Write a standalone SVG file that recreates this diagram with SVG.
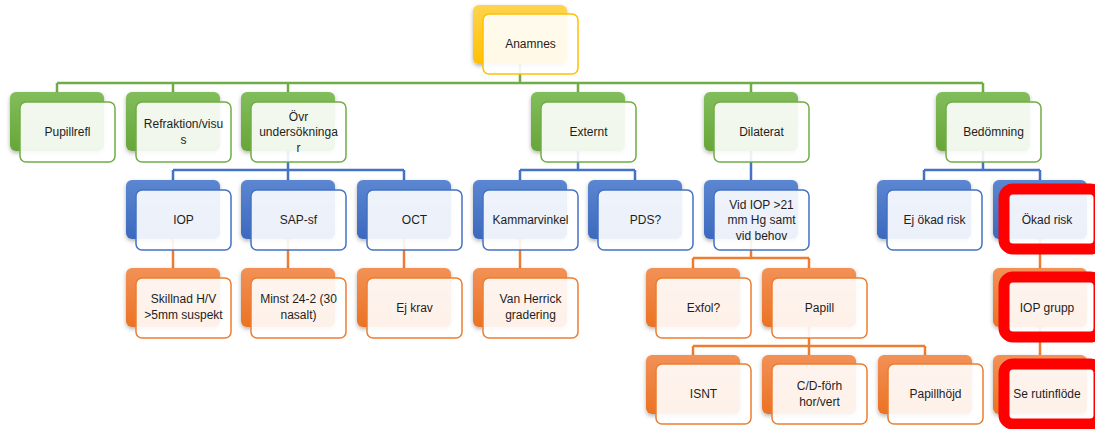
<svg xmlns="http://www.w3.org/2000/svg" width="1095" height="429" viewBox="0 0 1095 429">
<style>
.t{font-family:"Liberation Sans",Arial,sans-serif;font-size:12px;fill:#1e1e1e;text-anchor:middle;dominant-baseline:central}
.fr{fill:#fff;fill-opacity:0.9;stroke-width:1.5}
.bk{filter:url(#sh)}
.gY .b{fill:url(#gY)} .gY .fr{stroke:#FFC000}
.gG .b{fill:url(#gG)} .gG .fr{stroke:#70AD47}
.gB .b{fill:url(#gB)} .gB .fr{stroke:#4472C4}
.gO .b{fill:url(#gO)} .gO .fr{stroke:#ED7D31}
.red .fr{stroke:#FF0000;stroke-width:11}
.cG{stroke:#70AD47;stroke-width:2.5;fill:none}
.cB{stroke:#4472C4;stroke-width:2.5;fill:none}
.cO{stroke:#ED7D31;stroke-width:2.5;fill:none}
</style>
<defs>
<linearGradient id="gY" x1="0" y1="0" x2="0" y2="1"><stop offset="0" stop-color="#FFD34F"/><stop offset="1" stop-color="#FFC000"/></linearGradient>
<linearGradient id="gG" x1="0" y1="0" x2="0" y2="1"><stop offset="0" stop-color="#82BD5C"/><stop offset="1" stop-color="#67A637"/></linearGradient>
<linearGradient id="gB" x1="0" y1="0" x2="0" y2="1"><stop offset="0" stop-color="#5B86D1"/><stop offset="1" stop-color="#3D69BF"/></linearGradient>
<linearGradient id="gO" x1="0" y1="0" x2="0" y2="1"><stop offset="0" stop-color="#F29157"/><stop offset="1" stop-color="#EB7223"/></linearGradient>
<filter id="sh" x="-20%" y="-20%" width="140%" height="150%"><feDropShadow dx="0" dy="2" stdDeviation="2" flood-color="#000" flood-opacity="0.3"/></filter>
</defs>
<rect width="1095" height="429" fill="#fff"/>
<g id="connectors">
<path class="cG" d="M520 63V83M57 83H983M57 83V92M173 83V92M288 83V92M578 83V92M751 83V92M983 83V92"/>
<path class="cB" d="M288 151V170M173 170H404M173 170V180M288 170V180M404 170V180"/>
<path class="cB" d="M578 151V170M520 170H635M520 170V180M635 170V180"/>
<path class="cB" d="M751 151V180"/>
<path class="cB" d="M983 151V170M924 170H1040M924 170V180M1040 170V180"/>
<path class="cO" d="M173 239V268M288 239V268M404 239V268M520 239V268"/>
<path class="cO" d="M751 239V258M693 258H809M693 258V268M809 258V268"/>
<path class="cO" d="M1040 239V268"/>
<path class="cO" d="M809 327V346M693 346H925M693 346V355M809 346V355M925 346V355"/>
<path class="cO" d="M1040 327V355"/>
</g>
<g id="n-anamnes" class="gY"><rect class="b bk" x="473" y="5" width="94" height="59" rx="6"/><rect class="fr" x="483" y="14" width="95" height="60" rx="6"/><text class="t" x="530.5" y="44">Anamnes</text></g>
<g id="n-pupillrefl" class="gG"><rect class="b bk" x="10" y="92" width="94" height="59" rx="6"/><rect class="fr" x="20" y="102" width="95" height="60" rx="6"/><text class="t" x="67.5" y="132">Pupillrefl</text></g>
<g id="n-refraktion" class="gG"><rect class="b bk" x="126" y="92" width="94" height="59" rx="6"/><rect class="fr" x="136" y="102" width="95" height="60" rx="6"/><text class="t" x="183.5" y="124.25">Refraktion/visu</text><text class="t" x="183.5" y="139.75">s</text></g>
<g id="n-ovr" class="gG"><rect class="b bk" x="241" y="92" width="94" height="59" rx="6"/><rect class="fr" x="251" y="102" width="95" height="60" rx="6"/><text class="t" x="298.5" y="116.5">Övr</text><text class="t" x="298.5" y="132">undersökninga</text><text class="t" x="298.5" y="147.5">r</text></g>
<g id="n-externt" class="gG"><rect class="b bk" x="531" y="92" width="94" height="59" rx="6"/><rect class="fr" x="541" y="102" width="95" height="60" rx="6"/><text class="t" x="588.5" y="132">Externt</text></g>
<g id="n-dilaterat" class="gG"><rect class="b bk" x="704" y="92" width="94" height="59" rx="6"/><rect class="fr" x="714" y="102" width="95" height="60" rx="6"/><text class="t" x="761.5" y="132">Dilaterat</text></g>
<g id="n-bedomning" class="gG"><rect class="b bk" x="936" y="92" width="94" height="59" rx="6"/><rect class="fr" x="946" y="102" width="95" height="60" rx="6"/><text class="t" x="993.5" y="132">Bedömning</text></g>
<g id="n-iop" class="gB"><rect class="b bk" x="126" y="180" width="94" height="59" rx="6"/><rect class="fr" x="136" y="190" width="95" height="60" rx="6"/><text class="t" x="183.5" y="220">IOP</text></g>
<g id="n-sapsf" class="gB"><rect class="b bk" x="241" y="180" width="94" height="59" rx="6"/><rect class="fr" x="251" y="190" width="95" height="60" rx="6"/><text class="t" x="298.5" y="220">SAP-sf</text></g>
<g id="n-oct" class="gB"><rect class="b bk" x="357" y="180" width="94" height="59" rx="6"/><rect class="fr" x="367" y="190" width="95" height="60" rx="6"/><text class="t" x="414.5" y="220">OCT</text></g>
<g id="n-kammarvinkel" class="gB"><rect class="b bk" x="473" y="180" width="94" height="59" rx="6"/><rect class="fr" x="483" y="190" width="95" height="60" rx="6"/><text class="t" x="530.5" y="220">Kammarvinkel</text></g>
<g id="n-pds" class="gB"><rect class="b bk" x="588" y="180" width="94" height="59" rx="6"/><rect class="fr" x="598" y="190" width="95" height="60" rx="6"/><text class="t" x="645.5" y="220">PDS?</text></g>
<g id="n-vidiop" class="gB"><rect class="b bk" x="704" y="180" width="94" height="59" rx="6"/><rect class="fr" x="714" y="190" width="95" height="60" rx="6"/><text class="t" x="761.5" y="204.5">Vid IOP &gt;21</text><text class="t" x="761.5" y="220">mm Hg samt</text><text class="t" x="761.5" y="235.5">vid behov</text></g>
<g id="n-ejokad" class="gB"><rect class="b bk" x="877" y="180" width="94" height="59" rx="6"/><rect class="fr" x="887" y="190" width="95" height="60" rx="6"/><text class="t" x="934.5" y="220">Ej ökad risk</text></g>
<g id="n-okad" class="gB red"><rect class="b bk" x="993" y="180" width="94" height="59" rx="6"/><rect class="fr" x="1004" y="189" width="95" height="60" rx="9"/><text class="t" x="1047" y="220">Ökad risk</text></g>
<g id="n-skillnad" class="gO"><rect class="b bk" x="126" y="268" width="94" height="59" rx="6"/><rect class="fr" x="136" y="278" width="95" height="60" rx="6"/><text class="t" x="183.5" y="299">Skillnad H/V</text><text class="t" x="183.5" y="314.5">&gt;5mm suspekt</text></g>
<g id="n-minst" class="gO"><rect class="b bk" x="241" y="268" width="94" height="59" rx="6"/><rect class="fr" x="251" y="278" width="95" height="60" rx="6"/><text class="t" x="298.5" y="299">Minst 24-2 (30</text><text class="t" x="298.5" y="314.5">nasalt)</text></g>
<g id="n-ejkrav" class="gO"><rect class="b bk" x="357" y="268" width="94" height="59" rx="6"/><rect class="fr" x="367" y="278" width="95" height="60" rx="6"/><text class="t" x="414.5" y="308">Ej krav</text></g>
<g id="n-vanherrick" class="gO"><rect class="b bk" x="473" y="268" width="94" height="59" rx="6"/><rect class="fr" x="483" y="278" width="95" height="60" rx="6"/><text class="t" x="530.5" y="299">Van Herrick</text><text class="t" x="530.5" y="314.5">gradering</text></g>
<g id="n-exfol" class="gO"><rect class="b bk" x="646" y="268" width="94" height="59" rx="6"/><rect class="fr" x="656" y="278" width="95" height="60" rx="6"/><text class="t" x="703.5" y="308">Exfol?</text></g>
<g id="n-papill" class="gO"><rect class="b bk" x="762" y="268" width="94" height="59" rx="6"/><rect class="fr" x="772" y="278" width="95" height="60" rx="6"/><text class="t" x="819.5" y="308">Papill</text></g>
<g id="n-iopgrupp" class="gO red"><rect class="b bk" x="993" y="268" width="94" height="59" rx="6"/><rect class="fr" x="1004" y="277" width="95" height="60" rx="9"/><text class="t" x="1047" y="308">IOP grupp</text></g>
<g id="n-isnt" class="gO"><rect class="b bk" x="646" y="355" width="94" height="59" rx="6"/><rect class="fr" x="656" y="364" width="95" height="60" rx="6"/><text class="t" x="703.5" y="394">ISNT</text></g>
<g id="n-cd" class="gO"><rect class="b bk" x="762" y="355" width="94" height="59" rx="6"/><rect class="fr" x="772" y="364" width="95" height="60" rx="6"/><text class="t" x="819.5" y="386">C/D-förh</text><text class="t" x="819.5" y="401.5">hor/vert</text></g>
<g id="n-papillhojd" class="gO"><rect class="b bk" x="878" y="355" width="94" height="59" rx="6"/><rect class="fr" x="888" y="364" width="95" height="60" rx="6"/><text class="t" x="935.5" y="394">Papillhöjd</text></g>
<g id="n-serutin" class="gO red"><rect class="b bk" x="993" y="355" width="94" height="59" rx="6"/><rect class="fr" x="1004" y="364" width="95" height="60" rx="9"/><text class="t" x="1047" y="394">Se rutinflöde</text></g>
</svg>
